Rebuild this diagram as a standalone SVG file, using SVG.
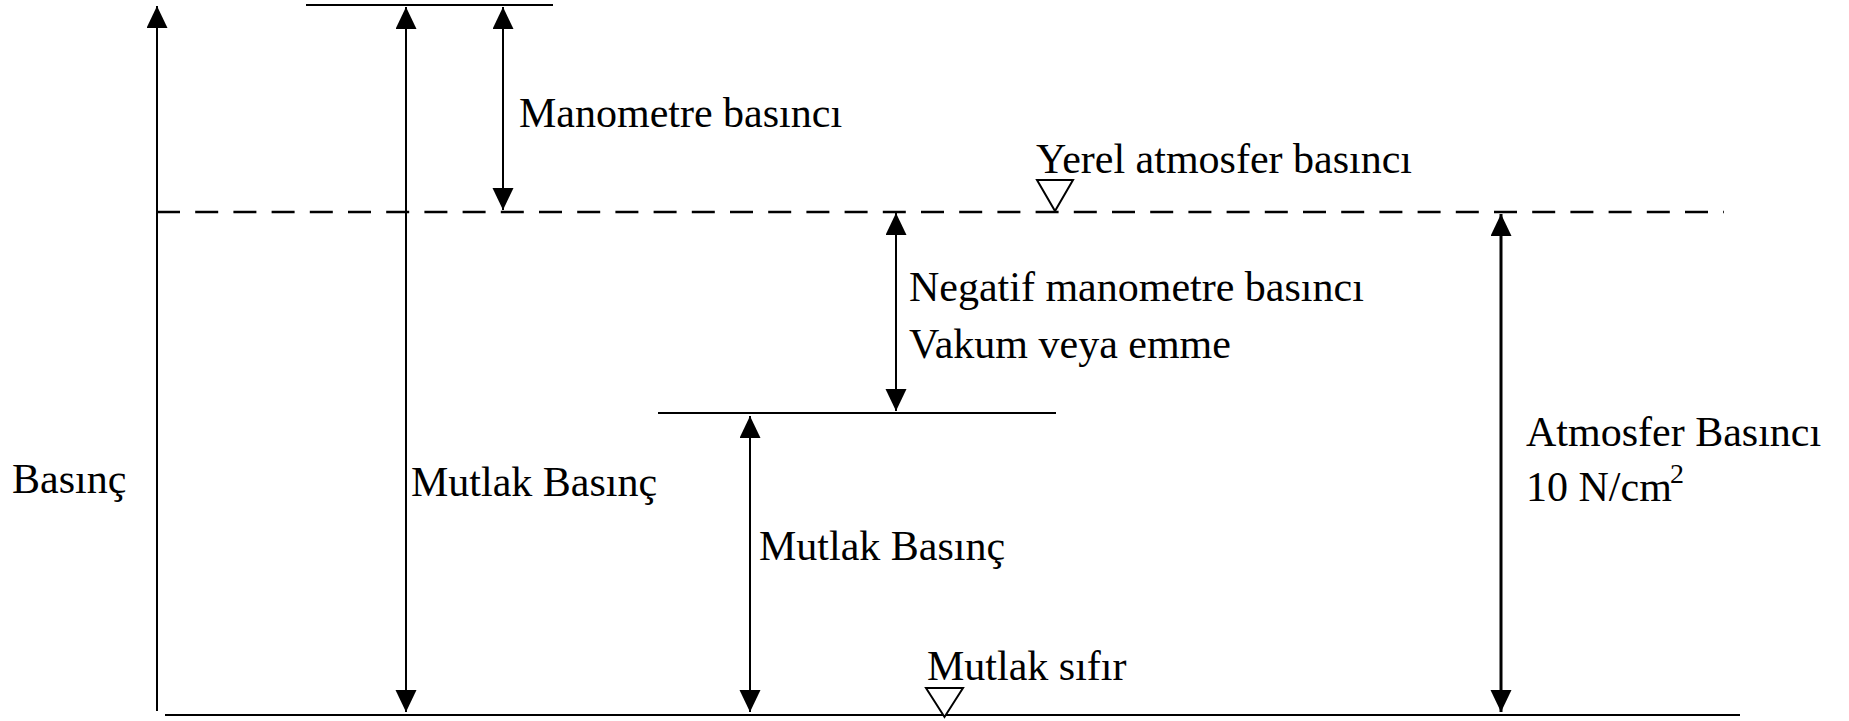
<svg xmlns="http://www.w3.org/2000/svg" width="1849" height="721" viewBox="0 0 1849 721">
  <style>
    .line { stroke: #000; stroke-width: 2; fill: none; }
    .dash { stroke: #000; stroke-width: 2.5; fill: none; stroke-dasharray: 23 15.2; }
    .arrow { stroke: #000; stroke-width: 2; fill: none; marker-end: url(#head); }
    .double { stroke: #000; stroke-width: 2; fill: none; marker-start: url(#head); marker-end: url(#head); }
    .bold { stroke-width: 3; }
    .mark { stroke: #000; stroke-width: 2; fill: #fff; }
    text { font-family: "Liberation Serif", "Times New Roman", serif; font-size: 42px; fill: #000; }
  </style>
  <defs>
    <marker id="head" markerUnits="userSpaceOnUse" markerWidth="24" markerHeight="22" refX="22" refY="10.5" orient="auto-start-reverse" viewBox="0 0 24 22">
      <path d="M0,0 L22,10.5 L0,21 Z" fill="#000"/>
    </marker>
  </defs>

  <!-- reference levels -->
  <g id="levels">
    <line id="level-gauge" class="line" x1="306" y1="5" x2="553" y2="5"/>
    <line id="level-atmosphere" class="dash" x1="157" y1="212" x2="1724" y2="212"/>
    <line id="level-vacuum" class="line" x1="658" y1="413" x2="1056" y2="413"/>
    <line id="level-zero" class="line" x1="165" y1="715" x2="1740" y2="715"/>
  </g>

  <!-- level markers -->
  <g id="marker-atmosphere">
    <polygon class="mark" points="1037,180 1073,180 1055,211"/>
  </g>
  <g id="marker-zero">
    <polygon class="mark" points="926,688 963,688 944.5,717"/>
  </g>

  <!-- dimension arrows -->
  <g id="connectors">
    <line id="axis" class="arrow" x1="157" y1="711" x2="157" y2="6"/>
    <line id="abs-high" class="double" x1="406" y1="7" x2="406" y2="712"/>
    <line id="gauge" class="double" x1="503" y1="7" x2="503" y2="210"/>
    <line id="vacuum" class="double" x1="896" y1="213" x2="896" y2="411"/>
    <line id="abs-low" class="double" x1="750" y1="416" x2="750" y2="712"/>
    <line id="atm" class="double bold" x1="1501" y1="214" x2="1501" y2="712"/>
  </g>

  <!-- labels -->
  <g id="label-axis"><text x="12" y="493">Basınç</text></g>
  <g id="label-gauge"><text x="519" y="127">Manometre basıncı</text></g>
  <g id="label-atmosphere-level"><text x="1036" y="173">Yerel atmosfer basıncı</text></g>
  <g id="label-vacuum">
    <text x="909" y="301">Negatif manometre basıncı</text>
    <text x="909" y="358">Vakum veya emme</text>
  </g>
  <g id="label-abs-high"><text x="411" y="496">Mutlak Basınç</text></g>
  <g id="label-abs-low"><text x="759" y="560">Mutlak Basınç</text></g>
  <g id="label-zero"><text x="927" y="680">Mutlak sıfır</text></g>
  <g id="label-atm">
    <text x="1526" y="446">Atmosfer Basıncı</text>
    <text x="1526" y="501">10 N/cm<tspan x="1670" font-size="28" dy="-18">2</tspan></text>
  </g>
</svg>
